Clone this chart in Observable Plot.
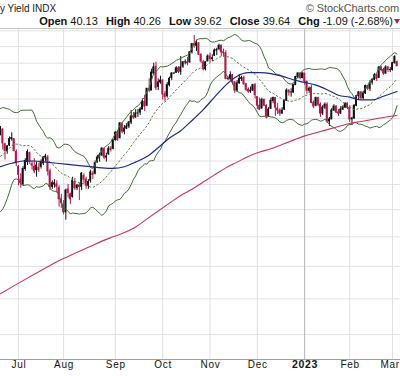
<!DOCTYPE html>
<html><head><meta charset="utf-8">
<script src="https://cdn.jsdelivr.net/npm/d3@7"></script>
<script src="https://cdn.jsdelivr.net/npm/@observablehq/plot@0.6"></script>
<style>
body{margin:0;background:#fff;}
#wrap{position:relative;width:400px;height:376px;overflow:hidden;font-family:"Liberation Sans",Arial,sans-serif;background:#fff;}
#chart{position:absolute;left:0;top:0;}
#title{position:absolute;left:0;top:3px;font-size:10px;line-height:12px;color:#222;white-space:nowrap;}
#copy{position:absolute;right:1px;top:2px;font-size:11px;line-height:13px;color:#555;white-space:nowrap;letter-spacing:-0.1px;}
#ohlc{position:absolute;right:7px;top:15px;font-size:11px;line-height:13px;color:#111;white-space:nowrap;}
#ohlc b{font-weight:bold;}
#ohlc .g{margin-left:5px;}
#tri{position:absolute;left:394px;top:19px;}
</style></head><body>
<div id="wrap">
<div id="chart"></div>
<div id="title">y Yield INDX</div>
<div id="copy">© StockCharts.com</div>
<div id="ohlc"><b>Open</b> 40.13 <b class="g">High</b> 40.26 <b class="g">Low</b> 39.62 <b class="g">Close</b> 39.64 <b class="g">Chg</b> -1.09 (-2.68%)</div>
<svg id="tri" width="7" height="6"><polygon points="0,0 6,0 3,5" fill="#a3284f"/></svg>
</div>
<script>
// OHLC rows per month: [day, open, high, low, close]  (TNX = yield x 10)
const jun22 = [[21,32.4,33.2,32.3,33.0],[22,32.9,33.0,31.0,31.6],[23,31.5,31.6,30.1,30.9],[24,30.9,31.4,30.6,31.3],[27,31.4,32.2,31.3,32.0],[28,32.0,32.6,31.8,32.1],[29,32.0,32.0,30.8,30.9],[30,30.8,31.0,29.5,29.8]];
const jul22 = [[1,29.5,29.6,27.9,28.8],[5,28.4,28.9,27.7,28.1],[6,28.0,29.5,27.9,29.3],[7,29.3,30.2,29.1,30.0],[8,29.9,31.0,29.6,30.8],[11,30.7,30.8,29.7,29.9],[12,29.7,30.0,29.2,29.6],[13,29.5,30.2,28.9,29.1],[14,29.2,29.9,28.6,29.6],[15,29.4,29.8,29.0,29.2],[18,29.5,30.1,29.3,29.9],[19,29.8,30.4,29.6,30.3],[20,30.3,30.6,29.9,30.4],[21,30.3,30.5,28.7,29.1],[22,29.1,29.3,27.5,27.8],[25,27.8,28.3,27.6,28.1],[26,28.0,28.4,27.7,28.1],[27,28.0,28.3,27.3,27.8],[28,27.7,27.9,26.2,26.8],[29,26.8,27.2,26.1,26.5]];
const aug22 = [[1,26.3,26.7,25.6,25.8],[2,25.8,27.6,25.2,27.5],[3,27.6,28.0,26.9,27.3],[4,27.2,27.3,26.4,26.8],[5,27.0,28.6,26.9,28.3],[8,28.2,28.5,27.5,27.7],[9,27.7,28.0,27.5,27.9],[10,27.9,28.1,26.7,27.8],[11,27.8,29.0,27.5,28.9],[12,28.7,28.9,28.1,28.4],[15,28.4,28.6,27.6,27.9],[16,27.9,28.4,27.6,28.2],[17,28.3,29.2,28.1,29.0],[18,28.9,29.1,28.4,28.8],[19,28.9,30.0,28.8,29.8],[22,29.9,30.5,29.8,30.3],[23,30.3,30.7,29.9,30.5],[24,30.5,31.2,30.4,31.1],[25,31.1,31.1,30.1,30.3],[26,30.3,30.7,29.9,30.4],[29,30.6,31.3,30.5,31.1],[30,31.1,31.3,30.8,31.0],[31,31.1,31.9,31.0,31.9]];
const sep22 = [[1,31.9,32.7,31.8,32.6],[2,32.6,32.8,31.8,31.9],[6,32.1,33.6,32.0,33.5],[7,33.4,33.6,32.5,32.7],[8,32.7,33.3,32.4,33.0],[9,33.0,33.5,32.9,33.2],[12,33.2,33.7,33.0,33.6],[13,33.6,34.8,33.4,34.2],[14,34.2,34.6,33.9,34.1],[15,34.1,34.9,34.0,34.5],[16,34.5,34.9,34.1,34.5],[19,34.6,35.1,34.3,34.9],[20,34.9,36.0,34.9,35.7],[21,35.7,36.4,34.7,35.2],[22,35.3,37.1,35.2,37.1],[23,37.1,38.2,36.7,36.9],[26,36.9,39.3,36.9,38.9],[27,38.8,40.0,38.6,39.5],[28,39.6,40.1,36.9,37.2],[29,37.3,38.2,36.9,37.8],[30,37.8,38.5,37.6,38.0]];
const oct22 = [[3,38.0,38.1,35.9,36.5],[4,36.5,36.8,35.7,36.2],[5,36.3,37.8,36.1,37.5],[6,37.5,38.4,37.3,38.2],[7,38.3,38.9,38.0,38.8],[10,38.8,38.9,38.7,38.8],[11,38.9,39.6,38.8,39.4],[12,39.4,39.6,38.8,39.0],[13,39.0,40.8,38.6,39.5],[14,39.6,40.2,39.4,40.1],[17,40.1,40.4,39.8,40.1],[18,40.1,40.7,39.7,40.0],[19,40.1,41.4,40.0,41.3],[20,41.3,42.4,41.1,42.3],[21,42.3,43.4,41.8,42.2],[24,42.1,42.8,41.4,42.4],[25,42.4,42.5,40.9,41.0],[26,41.0,41.1,40.0,40.2],[27,40.1,40.3,39.1,39.3],[28,39.3,40.2,39.1,40.1],[31,40.2,41.0,40.2,40.8]];
const nov22 = [[1,40.8,41.2,40.1,40.5],[2,40.5,41.0,40.2,40.6],[3,40.9,41.7,40.8,41.5],[4,41.5,41.8,40.9,41.6],[7,41.7,42.3,41.5,42.1],[8,42.1,42.2,40.8,41.3],[9,41.3,41.7,40.7,41.2],[10,41.2,41.5,38.1,38.2],[11,38.2,38.4,38.0,38.2],[14,38.2,39.0,38.0,38.6],[15,38.6,38.7,37.5,37.8],[16,37.8,37.9,36.6,36.9],[17,36.9,38.0,36.7,37.7],[18,37.7,38.7,37.6,38.2],[21,38.2,38.5,37.9,38.3],[22,38.3,38.5,37.5,37.6],[23,37.6,37.7,36.8,37.0],[25,37.0,37.2,36.6,36.8],[28,36.8,37.3,36.6,36.9],[29,36.9,37.6,36.8,37.5],[30,37.5,37.7,36.0,36.4]];
const dec22 = [[1,36.2,36.2,34.9,35.3],[2,35.3,36.1,34.8,34.9],[5,35.0,36.1,35.0,35.9],[6,35.9,36.0,35.2,35.3],[7,35.3,35.4,34.0,34.2],[8,34.2,35.1,34.1,34.9],[9,35.0,36.1,34.9,35.8],[12,35.8,36.2,35.5,36.1],[13,36.1,36.1,34.2,35.1],[14,35.0,35.5,34.4,34.8],[15,34.8,35.0,34.2,34.5],[16,34.5,35.1,34.4,34.8],[19,34.9,35.9,34.8,35.8],[20,35.8,37.1,35.8,36.9],[21,36.9,37.0,36.3,36.7],[22,36.7,37.1,36.2,36.7],[23,36.7,37.6,36.6,37.5],[27,37.5,38.5,37.5,38.4],[28,38.4,38.9,38.2,38.8],[29,38.8,38.9,38.1,38.3],[30,38.3,38.9,38.2,38.8]];
const jan23 = [[3,38.8,38.8,37.5,37.9],[4,37.9,37.9,36.5,36.9],[5,36.9,37.3,36.6,37.1],[6,37.2,37.5,35.5,35.6],[9,35.6,35.8,35.0,35.2],[10,35.3,36.2,35.2,36.1],[11,36.1,36.2,35.2,35.4],[12,35.4,35.6,34.1,34.5],[13,34.5,35.3,34.3,35.1],[17,35.1,35.6,34.9,35.4],[18,35.4,35.6,33.5,33.7],[19,33.7,34.1,33.2,33.9],[20,33.9,35.0,33.9,34.8],[23,34.8,35.4,34.7,35.2],[24,35.2,35.3,34.5,34.6],[25,34.6,34.9,34.2,34.5],[26,34.5,35.2,34.4,34.9],[27,34.9,35.3,34.8,35.1],[30,35.1,35.6,35.0,35.5],[31,35.5,35.6,34.9,35.1]];
const feb23 = [[1,35.1,35.3,33.6,33.9],[2,33.9,34.1,33.3,34.0],[3,34.0,35.4,33.9,35.3],[6,35.3,36.4,35.2,36.3],[7,36.3,36.8,35.9,36.7],[8,36.7,36.8,35.9,36.1],[9,36.1,36.8,35.9,36.6],[10,36.6,37.5,36.5,37.4],[13,37.4,37.5,36.9,37.1],[14,37.1,38.0,36.8,37.7],[15,37.8,38.2,37.5,38.1],[16,38.1,38.8,38.0,38.6],[17,38.6,38.7,37.9,38.2],[21,38.3,39.6,38.3,39.5],[22,39.5,39.6,39.0,39.2],[23,39.2,39.4,38.6,38.8],[24,38.8,39.7,38.7,39.5],[27,39.5,39.6,38.9,39.2],[28,39.2,39.5,38.9,39.2]];
const mar23 = [[1,39.2,40.1,39.1,40.0],[2,40.0,40.9,39.9,40.73],[3,40.13,40.26,39.62,39.64]];

// closes of the 19 sessions before the first visible one (for the 20-day bands)
const priorCloses = [28.6,27.6,27.5,27.5,27.4,28.5,29.4,29.2,29.6,30.4,29.8,30.3,30.4,31.5,34.3,34.8,33.3,32.8,32.5];

// month grid: first session index of each month, and its label
const monthStarts = [8,28,51,72,93,114,135,155,174];
const monthLabels = ["Jul","Aug","Sep","Oct","Nov","Dec","2023","Feb","Mar"];

// horizontal grid values
const gridVals = [18,20,22,24,26,28,30,32,34,36,38,40,42,44];

// 50-day and 200-day moving averages at these session indices
const maIdx   = [0,5,10,15,20,25,30,35,40,45,50,55,60,65,70,75,80,85,90,95,100,105,110,115,120,125,130,135,140,145,150,155,160,165,170,176];
const ma50    = [29.5,29.8,30.0,30.0,29.9,29.8,29.7,29.6,29.5,29.4,29.35,29.5,29.9,30.4,31.2,32.1,32.8,33.8,34.9,36.2,37.5,38.5,38.9,38.9,38.8,38.5,38.1,37.8,37.5,37.0,36.4,36.2,35.9,35.9,36.3,36.8];
const ma200   = [20.3,20.7,21.1,21.5,21.9,22.3,22.65,23.0,23.35,23.7,24.0,24.3,24.7,25.3,25.9,26.5,27.1,27.6,28.2,28.8,29.4,29.9,30.4,30.8,31.1,31.5,31.9,32.3,32.6,32.9,33.2,33.5,33.7,33.9,34.1,34.3];

// ---- build table ----
const rows = [];
[jun22,jul22,aug22,sep22,oct22,nov22,dec22,jan23,feb23,mar23].forEach(m => m.forEach(r => {
  rows.push({i: rows.length, open: r[1], high: r[2], low: r[3], close: r[4]});
}));
const allCloses = priorCloses.concat(rows.map(d => d.close));
rows.forEach((d, k) => {
  const prev = allCloses[k + priorCloses.length - 1];
  d.up = d.close >= prev;
  const w = allCloses.slice(k, k + 20);
  const mean = d3.mean(w);
  const sd = Math.sqrt(d3.mean(w, v => (v - mean) ** 2));
  d.mid = mean; d.upper = mean + 2 * sd; d.lower = mean - 2 * sd;
});
const upRows = rows.filter(d => d.up), downRows = rows.filter(d => !d.up);
const maRows = maIdx.map((i, k) => ({i, ma50: ma50[k], ma200: ma200[k]}));
const months = monthStarts.map((i, k) => ({i, label: monthLabels[k], year: monthLabels[k] === "2023"}));
const lastMonth = months.slice(-1);
const midMonths = months.slice(0, -1);

const UP = "#111", DOWN = "#b3164a", GREEN = "#3f6d35";
const body = (data, fill) => Plot.rect(data, {
  x1: d => d.i - 0.42, x2: d => d.i + 0.42,
  y1: d => Math.min(d.open, d.close), y2: d => Math.max(d.open, d.close),
  fill, insetTop: -0.5, insetBottom: -0.5
});

const chart = Plot.plot({
  width: 400, height: 376,
  marginTop: 28, marginBottom: 17, marginLeft: 0, marginRight: 0,
  x: {type: "linear", domain: [0, 177.54], axis: null},
  y: {type: "log", domain: [16.73, 44.30], axis: null},
  style: {background: "white", fontFamily: "Liberation Sans, Arial, sans-serif", overflow: "hidden", letterSpacing: "0.7px"},
  marks: [
    Plot.ruleY(gridVals, {stroke: "#e2e2e2"}),
    Plot.ruleX(months.filter(d => !d.year), {x: "i", stroke: "#e0e0e0"}),
    Plot.ruleX(months.filter(d => d.year), {x: "i", stroke: "#b4b4b4"}),
    Plot.ruleY([44.30], {stroke: "#c4c4c4"}),
    Plot.ruleY([16.73], {stroke: "#a0a0a0"}),
    Plot.ruleX(upRows, {x: "i", y1: "low", y2: "high", stroke: UP}),
    Plot.ruleX(downRows, {x: "i", y1: "low", y2: "high", stroke: DOWN}),
    body(upRows, UP),
    body(downRows, DOWN),
    Plot.line(rows, {x: "i", y: "upper", stroke: GREEN, strokeWidth: 1}),
    Plot.line(rows, {x: "i", y: "lower", stroke: GREEN, strokeWidth: 1}),
    Plot.line(rows, {x: "i", y: "mid", stroke: "#4a7d40", strokeWidth: 1, strokeDasharray: "1.5,2.5"}),
    Plot.line(maRows, {x: "i", y: "ma50", stroke: "#1e2a82", strokeWidth: 1.2, curve: "monotone-x"}),
    Plot.line(maRows, {x: "i", y: "ma200", stroke: "#c9345c", strokeWidth: 1.1, curve: "monotone-x"}),
    Plot.text(midMonths.filter(d => !d.year), {x: "i", text: "label", frameAnchor: "bottom", dy: 8, dx: 0.4, fontSize: 10, fill: "#111"}),
    Plot.text(midMonths.filter(d => d.year), {x: "i", text: "label", frameAnchor: "bottom", dy: 8, dx: 0.4, fontSize: 10.5, fontWeight: "bold", fill: "#111"}),
    Plot.text(lastMonth, {x: "i", text: "label", frameAnchor: "bottom", dy: 8, dx: 7.3, textAnchor: "end", fontSize: 10, fill: "#111"})
  ]
});
document.getElementById("chart").appendChild(chart);
</script>
</body></html>
